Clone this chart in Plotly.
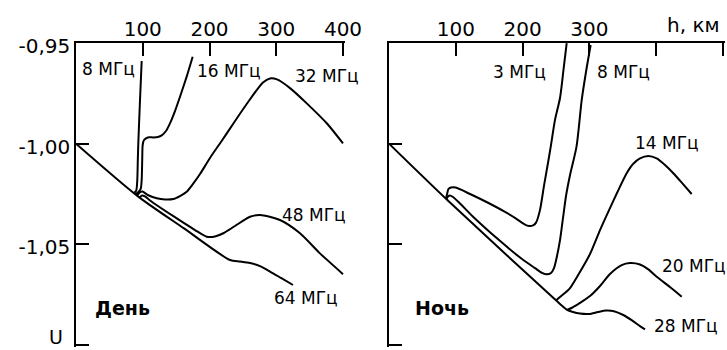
import plotly.graph_objects as go

# ---------------- Day panel (left) ----------------
day8_x = [86.9, 90.2, 91.8, 92.6, 93.3, 95.9, 98.4]
day8_y = [-1.0245, -1.0233, -1.0180, -1.0081, -1.0002, -0.9783, -0.9589]

day16_x = [89.1, 93.6, 96.9, 98.4, 99.2, 99.9, 101.9, 107.4, 115.8, 122.8, 128.4, 134.8, 140.8, 148.3, 155.8, 165.8, 174.8]
day16_y = [-1.0252, -1.0240, -1.0225, -1.0180, -1.0081, -1.0007, -0.9982, -0.9969, -0.9969, -0.9967, -0.9959, -0.9937, -0.9899, -0.9838, -0.9767, -0.9667, -0.9568]

day32_x = [91.4, 95.1, 99.6, 107.4, 120.9, 133.3, 145.8, 155.8, 165.8, 175.3, 185.8, 200.7, 220.2, 255.7, 280.1, 290.6, 301.1, 320.6, 346.1, 376.0, 400.0]
day32_y = [-1.0258, -1.0243, -1.0238, -1.0255, -1.0271, -1.0277, -1.0275, -1.0260, -1.0239, -1.0200, -1.0151, -1.0071, -0.9977, -0.9803, -0.9696, -0.9676, -0.9681, -0.9724, -0.9801, -0.9900, -0.9999]

day48_x = [95.1, 98.9, 103.4, 110.9, 145.3, 178.3, 195.8, 208.2, 220.7, 238.2, 260.7, 275.6, 305.6, 335.6, 365.5, 400.0]
day48_y = [-1.0268, -1.0257, -1.0262, -1.0282, -1.0359, -1.0429, -1.0462, -1.0461, -1.0445, -1.0409, -1.0363, -1.0354, -1.0379, -1.0445, -1.0545, -1.0648]

day64_x = [0.0, 93.3, 161.8, 230.7, 245.7, 260.7, 275.6, 290.6, 307.1, 325.1]
day64_y = [-1.000, -1.0263, -1.0421, -1.0578, -1.0585, -1.0593, -1.0608, -1.0635, -1.0667, -1.0702]

# ---------------- Night panel (right) ----------------
night3_x = [85.3, 87.3, 89.1, 92.8, 99.8, 121.3, 149.7, 173.7, 189.7, 203.6, 209.6, 215.6, 220.1, 226.0, 232.0, 238.0, 242.5, 248.5, 256.0, 261.2, 266.0]
night3_y = [-1.0273, -1.0245, -1.0225, -1.0218, -1.0218, -1.0250, -1.0296, -1.0339, -1.0371, -1.0402, -1.0409, -1.0406, -1.0392, -1.0330, -1.0210, -1.0096, -1.0007, -0.9882, -0.9773, -0.9634, -0.9501]

night8_x = [86.1, 88.3, 91.3, 95.8, 106.3, 124.7, 164.7, 199.1, 218.6, 229.0, 236.5, 242.5, 247.0, 251.5, 256.0, 260.5, 265.0, 271.0, 280.7, 288.5, 294.9, 301.9]
night8_y = [-1.0275, -1.0262, -1.0257, -1.0265, -1.0297, -1.0359, -1.0479, -1.0573, -1.0618, -1.0642, -1.0649, -1.0642, -1.0618, -1.0558, -1.0479, -1.0369, -1.0260, -1.0156, -1.0015, -0.9783, -0.9644, -0.9510]

night14_x = [250.0, 256.0, 271.0, 281.4, 300.9, 315.9, 330.8, 341.3, 355.8, 365.3, 375.7, 388.2, 400.7, 413.2, 425.6, 438.6, 453.1]
night14_y = [-1.0779, -1.0762, -1.0717, -1.0662, -1.0548, -1.0429, -1.0320, -1.0245, -1.0147, -1.0101, -1.0073, -1.0061, -1.0073, -1.0106, -1.0147, -1.0195, -1.0250]

night20_x = [266.5, 274.0, 285.9, 300.9, 315.9, 330.8, 348.3, 360.8, 375.7, 387.7, 400.7, 420.6, 438.2]
night20_y = [-1.0826, -1.0815, -1.0791, -1.0757, -1.0707, -1.0647, -1.0603, -1.0593, -1.0600, -1.0623, -1.0661, -1.0712, -1.0760]

night28_x = [0.0, 87.3, 249.5, 266.0, 275.4, 285.9, 299.4, 312.9, 324.8, 336.8, 350.7, 363.8, 375.7, 383.2]
night28_y = [-1.000, -1.0280, -1.0777, -1.0824, -1.0836, -1.0844, -1.0846, -1.0836, -1.0829, -1.0832, -1.0851, -1.0878, -1.0906, -1.0922]

# ticks
y_tickvals = [-0.95, -1.00, -1.05, -1.10]
y_ticktext = ["-0,95", "-1,00", "-1,05", ""]
y_unit = "U"
x1_tickvals = [100, 200, 300, 400]
x1_ticktext = ["100", "200", "300", "400"]
x2_tickvals = [100, 200, 300, 400, 500]
x2_ticktext = ["100", "200", "300", "", ""]
x_unit = "h, км"

# labels: (text, x, y, anchor)
day_labels = [("8 МГц", 91.0, -0.9629, "right"), ("16 МГц", 178.3, -0.9639, "left"),
              ("32 МГц", 325.1, -0.9666, "left"), ("48 МГц", 305.6, -1.0352, "left"),
              ("64 МГц", 293.6, -1.0769, "left")]
night_labels = [("3 МГц", 238.0, -0.9642, "right"), ("8 МГц", 308.4, -0.9642, "left"),
                ("14 МГц", 365.7, -0.9997, "left"), ("20 МГц", 405.7, -1.0607, "left"),
                ("28 МГц", 393.3, -1.0905, "left")]
day_title = ("День", 25.5, -1.0814)
night_title = ("Ночь", 35.9, -1.0814)

FONT = "DejaVu Sans"
fig = go.Figure()
line = dict(color="black", width=2, shape="spline", smoothing=0.7)

for xs, ys in [(day8_x, day8_y), (day16_x, day16_y), (day32_x, day32_y), (day48_x, day48_y), (day64_x, day64_y)]:
    fig.add_trace(go.Scatter(x=xs, y=ys, mode="lines", line=line, xaxis="x", yaxis="y", showlegend=False, hoverinfo="skip"))
for xs, ys in [(night3_x, night3_y), (night8_x, night8_y), (night14_x, night14_y), (night20_x, night20_y), (night28_x, night28_y)]:
    fig.add_trace(go.Scatter(x=xs, y=ys, mode="lines", line=line, xaxis="x2", yaxis="y2", showlegend=False, hoverinfo="skip"))

ax_common = dict(showline=True, linecolor="black", linewidth=1.5, ticks="inside", ticklen=13,
                 tickwidth=1.5, tickcolor="black", showgrid=False, zeroline=False, automargin=False,
                 layer="above traces", ticklabeloverflow="allow",
                 tickfont=dict(family=FONT, size=20, color="black"))

# scale: 0.15 units over 302 px (y); 100 km over 66.75 px (x)
y_lo = -1.1010
ydom = [(5 - 0.001 * 302 / 0.15) / 350, 307 / 350]
x1_hi = 402.5
x2_hi = 502.5
fig.update_layout(
    width=727, height=350, autosize=False,
    margin=dict(l=0, r=0, t=0, b=0, pad=0),
    paper_bgcolor="white", plot_bgcolor="white",
    showlegend=False,
    xaxis=dict(domain=[76 / 727, (76 + x1_hi * 0.6675) / 727], range=[0, x1_hi], side="top", anchor="y",
               tickvals=x1_tickvals, ticktext=x1_ticktext, ticklabelstandoff=-3, **ax_common),
    yaxis=dict(domain=ydom, range=[y_lo, -0.95], anchor="x", ticklabelshift=3,
               tickvals=y_tickvals, ticktext=y_ticktext, **ax_common),
    xaxis2=dict(domain=[389 / 727, (389 + x2_hi * 0.668) / 727], range=[0, x2_hi], side="top", anchor="y2",
                tickvals=x2_tickvals, ticktext=x2_ticktext, ticklabelstandoff=-3, **ax_common),
    yaxis2=dict(domain=ydom, range=[y_lo, -0.95], anchor="x2",
                tickvals=y_tickvals[1:], showticklabels=False, **ax_common),
)

lab_font = dict(family=FONT, size=17, color="black")
for t, x, y, a in day_labels:
    fig.add_annotation(text=t, x=x, y=y, xref="x", yref="y", xanchor=a, yanchor="middle",
                       showarrow=False, font=lab_font)
for t, x, y, a in night_labels:
    fig.add_annotation(text=t, x=x, y=y, xref="x2", yref="y2", xanchor=a, yanchor="middle",
                       showarrow=False, font=lab_font)
bold = dict(family=FONT, size=19, color="black", weight="bold")
fig.add_annotation(text="<b>%s</b>" % day_title[0], x=day_title[1], y=day_title[2], xref="x", yref="y",
                   xanchor="left", yanchor="middle", showarrow=False, font=bold)
fig.add_annotation(text="<b>%s</b>" % night_title[0], x=night_title[1], y=night_title[2], xref="x2", yref="y2",
                   xanchor="left", yanchor="middle", showarrow=False, font=bold)
fig.add_annotation(text=x_unit, x=722 / 727, y=1 - 25 / 350, xref="paper", yref="paper",
                   xanchor="right", yanchor="middle", showarrow=False,
                   font=dict(family=FONT, size=20, color="black"))
fig.add_annotation(text=y_unit, x=65 / 727, y=0, xref="paper", yref="paper",
                   xanchor="right", yanchor="bottom", showarrow=False,
                   font=dict(family=FONT, size=19, color="black"))

fig.write_html("out.html", config={"displayModeBar": False},
               post_script="document.body.style.margin='0';document.body.style.overflow='hidden';")
